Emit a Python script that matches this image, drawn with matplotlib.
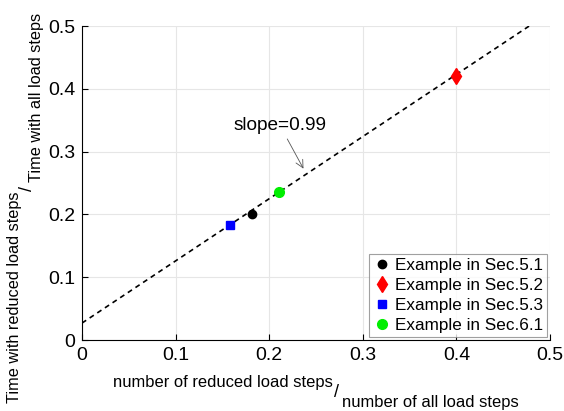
import numpy as np
import matplotlib
matplotlib.use("Agg")
import matplotlib.pyplot as plt

plt.rcParams['font.family'] = ['Liberation Sans', 'DejaVu Sans']

# step ratio (x) vs. time ratio (y) for each example
labels = ['Example in Sec.5.1', 'Example in Sec.5.2', 'Example in Sec.5.3', 'Example in Sec.6.1']
step_ratio = [0.182, 0.400, 0.158, 0.210]
time_ratio = [0.200, 0.420, 0.183, 0.236]
colors = ['black', 'red', 'blue', '#00ee00']
markers = ['o', 'd', 's', 'o']
msizes = [6, 8, 6, 7]

# fitted line
slope = 0.99
intercept = 0.027
ticks = [0, 0.1, 0.2, 0.3, 0.4, 0.5]
tick_labels = ['0', '0.1', '0.2', '0.3', '0.4', '0.5']

fig = plt.figure(figsize=(5.64, 4.11), dpi=100)
ax = fig.add_axes([0.1454, 0.1727, 0.8298, 0.764])

x_fit = np.array([0.0, (0.5 - intercept) / slope])
ax.plot(x_fit, slope * x_fit + intercept, 'k--', lw=1.2, dashes=(3, 2.5), zorder=2)

for x, y, c, m, s, lab in zip(step_ratio, time_ratio, colors, markers, msizes, labels):
    ax.plot(x, y, linestyle='none', marker=m, color=c, markersize=s, label=lab, zorder=3)

ax.annotate('slope=0.99', xy=(0.238, 0.269), xytext=(0.2113, 0.342),
            ha='center', va='center', fontsize=13.7,
            arrowprops=dict(arrowstyle='->', color='#555555', lw=0.6))

ax.set_xlim(0, 0.5)
ax.set_ylim(0, 0.5)
ax.set_xticks(ticks)
ax.set_xticklabels(tick_labels)
ax.set_yticks(ticks)
ax.set_yticklabels(tick_labels)
ax.tick_params(direction='in', labelsize=14, length=4, pad=5)
ax.grid(True, color='#e6e6e6', lw=0.8)
ax.set_axisbelow(True)
for side in ['top', 'right']:
    ax.spines[side].set_visible(False)

leg = ax.legend(loc='lower right', fontsize=12.3, frameon=True, fancybox=False,
                handletextpad=0.25, handlelength=1.0, borderpad=0.25, labelspacing=0.3,
                borderaxespad=0.15)
leg.get_frame().set_edgecolor('#888888')
leg.get_frame().set_linewidth(0.8)

# split fraction labels
fig.text(223 / 564, 1 - 382 / 411, 'number of reduced load steps', ha='center', va='center', fontsize=11.9)
fig.text(337 / 564, 1 - 392 / 411, '/', ha='center', va='center', fontsize=13)
fig.text(430 / 564, 1 - 402 / 411, 'number of all load steps', ha='center', va='center', fontsize=11.9)

fig.text(15 / 564, 1 - 297 / 411, 'Time with reduced load steps', rotation=90, ha='center', va='center', fontsize=11.7)
fig.text(28 / 564, 1 - 188 / 411, '/', rotation=90, ha='center', va='center', fontsize=13)
fig.text(37 / 564, 1 - 97 / 411, 'Time with all load steps', rotation=90, ha='center', va='center', fontsize=11.7)

fig.savefig('out.png', dpi=100)
